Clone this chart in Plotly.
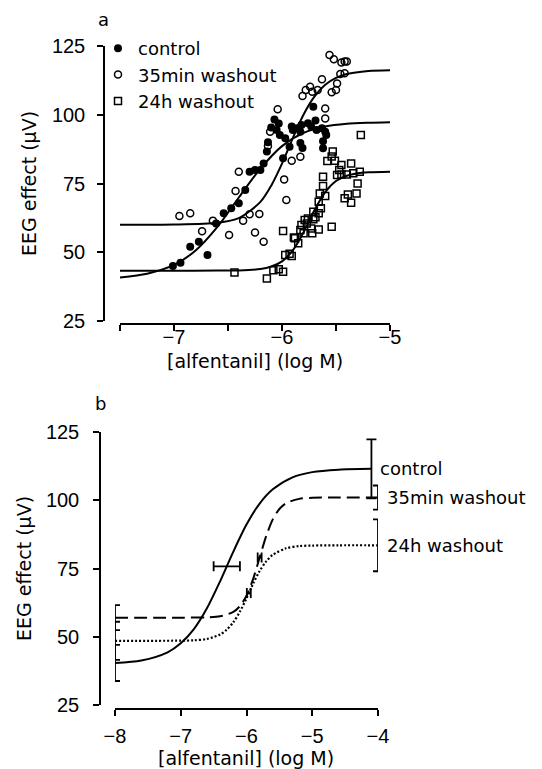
import plotly.graph_objects as go

# ---------------- Panel a: data ----------------
ctrl_x = [-7.01, -6.94, -6.85, -6.77, -6.69, -6.61, -6.54, -6.47, -6.40, -6.34, -6.30, -6.25, -6.20,
          -6.17, -6.14, -5.99, -5.62, -6.07, -6.03, -6.10, -6.05, -6.02, -5.91, -5.90, -5.86, -5.83,
          -5.82, -5.76, -5.73, -5.69, -5.68, -5.63, -5.60, -5.59, -5.71, -5.93, -5.83, -5.81, -5.62,
          -6.13, -5.97]
ctrl_y = [45.0, 46.2, 52.0, 53.8, 49.0, 60.5, 64.2, 66.0, 67.8, 72.6, 79.3, 79.9, 79.9,
          82.3, 86.6, 84.2, 87.8, 98.3, 96.8, 95.4, 94.5, 92.6, 95.7, 94.5, 95.1, 93.8,
          96.3, 96.9, 95.7, 97.9, 94.5, 95.1, 93.8, 92.6, 102.9, 88.4, 89.7, 87.9, 90.4,
          90.0, 91.5]

w35_x = [-5.56, -5.52, -5.45, -5.42, -5.40, -5.46, -5.42, -5.63, -5.49, -5.50, -5.54, -5.74, -5.78,
         -5.72, -5.67, -5.81, -6.04, -5.60, -5.60, -6.11, -6.13, -6.40, -6.43, -6.95, -6.85, -6.64,
         -6.36, -6.30, -6.21, -6.74, -6.49, -6.25, -6.17, -5.98, -5.96, -5.91, -5.83]
w35_y = [121.7, 120.2, 119.0, 119.4, 119.4, 114.8, 115.1, 112.9, 111.4, 109.0, 108.2, 110.2, 109.0,
         108.4, 109.0, 106.8, 102.0, 102.3, 98.6, 93.8, 88.6, 79.3, 72.3, 63.2, 64.2, 61.5,
         61.5, 63.8, 63.9, 57.6, 56.3, 57.2, 53.8, 76.5, 69.0, 83.3, 84.7]

w24_x = [-5.27, -5.53, -5.54, -5.58, -5.51, -5.45, -5.36, -5.47, -5.49, -5.45, -5.40, -5.34, -5.28,
         -5.62, -5.30, -5.31, -5.39, -5.42, -5.36, -5.62, -5.65, -5.60, -5.66, -5.64, -5.66, -5.71,
         -5.76, -5.79, -5.71, -5.69, -5.82, -5.77, -5.73, -5.66, -5.54, -5.83, -5.89, -5.99, -5.80,
         -5.72, -5.88, -5.85, -5.97, -5.91, -5.93, -6.08, -6.03, -5.99, -6.44, -6.14]
w24_y = [92.6, 86.6, 84.8, 83.2, 83.3, 81.7, 82.3, 79.9, 78.1, 78.3, 78.3, 78.7, 79.3,
         77.5, 75.0, 71.4, 71.0, 69.6, 68.0, 74.1, 71.4, 70.5, 68.4, 66.0, 64.2, 64.7,
         62.3, 61.7, 62.0, 62.7, 59.9, 60.5, 58.6, 58.3, 59.3, 58.1, 55.4, 57.7, 56.9,
         56.9, 55.1, 53.3, 49.0, 48.6, 49.5, 43.5, 43.8, 42.9, 42.6, 40.5]

# fitted curves, panel a
fit_ctrl_x = [-7.5, -7.25, -7.0, -6.8, -6.6, -6.4, -6.2, -6.0, -5.8, -5.6, -5.4, -5.2, -5.0]
fit_ctrl_y = [40.8, 42.2, 45.4, 50.6, 59.1, 69.9, 80.4, 88.6, 93.4, 95.7, 96.7, 97.1, 97.3]

fit_w35_x = [-7.5, -7.0, -6.6, -6.4, -6.2, -6.1, -6.0, -5.9, -5.8, -5.7, -5.6, -5.5, -5.4, -5.2, -5.0]
fit_w35_y = [60.0, 60.05, 60.7, 62.4, 68.3, 74.2, 82.2, 91.5, 100.1, 106.6, 110.9, 113.4, 114.8, 115.9, 116.2]

fit_w24_x = [-7.5, -7.0, -6.6, -6.4, -6.2, -6.1, -6.0, -5.9, -5.8, -5.7, -5.6, -5.5, -5.4, -5.3, -5.2, -5.0]
fit_w24_y = [43.3, 43.3, 43.32, 43.4, 43.9, 44.8, 46.7, 50.7, 57.3, 65.3, 71.9, 75.9, 77.8, 78.7, 79.05, 79.26]

a_xticks = [-7.5, -7.0, -6.5, -6.0, -5.5, -5.0]
a_xticktext = ["", "−7", "", "−6", "", "−5"]
yticks = [25, 50, 75, 100, 125]

# ---------------- Panel b: data ----------------
b_ctrl_x = [-8, -7.6, -7.2, -7.0, -6.8, -6.6, -6.4, -6.2, -6.0, -5.8, -5.6, -5.3, -5.0, -4.6, -4.1]
b_ctrl_y = [40.4, 41.3, 44.3, 47.6, 52.8, 60.5, 70.4, 81.2, 91.1, 98.8, 104.0, 108.4, 110.3, 111.2, 111.5]

b_w35_x = [-8, -7, -6.6, -6.4, -6.2, -6.1, -6.0, -5.9, -5.8, -5.7, -5.6, -5.5, -5.4, -5.2, -5.0, -4.6, -4.0]
b_w35_y = [57.0, 57.0, 57.1, 57.5, 59.1, 61.2, 65.0, 71.1, 79.0, 86.9, 93.0, 96.8, 98.9, 100.5, 100.9, 101.0, 101.0]

b_w24_x = [-8, -7, -6.8, -6.6, -6.4, -6.3, -6.2, -6.1, -6.0, -5.9, -5.8, -5.7, -5.6, -5.4, -5.2, -5.0, -4.6, -4.0]
b_w24_y = [48.5, 48.57, 48.7, 49.2, 50.85, 52.6, 55.3, 59.2, 64.1, 69.4, 74.1, 77.6, 80.0, 82.4, 83.2, 83.4, 83.5, 83.5]

# vertical error bars (start / plateau)
veb_x = [-8, -8, -8, -4.1, -4.0, -4.0]
veb_y = [40.4, 57.0, 48.5, 111.5, 101.0, 83.5]
veb_err = [6.6, 4.6, 7.0, 10.8, 4.4, 9.5]

# horizontal error bars (EC50)
heb_x = [-6.3, -5.8, -5.965]
heb_y = [75.8, 79.0, 66.0]
heb_err = [0.2, 0.03, 0.03]

b_xticks = [-8, -7, -6, -5, -4]
b_labels = ["control", "35min washout", "24h washout"]
b_label_x = [-4.1, -4.0, -4.0]
b_label_y = [111.5, 101.0, 83.5]

XTITLE = "[alfentanil] (log M)"
YTITLE = "EEG effect (μV)"

# ---------------- figure ----------------
TICKFONT = dict(family="Liberation Sans, Arial, sans-serif", size=20, color="black")
TXTFONT = dict(family="DejaVu Sans, sans-serif", size=18, color="black")
TITLEFONT = dict(family="DejaVu Sans, sans-serif", size=19, color="black")

fig = go.Figure()

fig.add_trace(go.Scatter(x=ctrl_x, y=ctrl_y, mode="markers", name="control",
                         marker=dict(symbol="circle", size=8, color="black"),
                         xaxis="x", yaxis="y"))
fig.add_trace(go.Scatter(x=w35_x, y=w35_y, mode="markers", name="35min washout",
                         marker=dict(symbol="circle-open", size=7, color="black", line=dict(width=1.5)),
                         xaxis="x", yaxis="y"))
fig.add_trace(go.Scatter(x=w24_x, y=w24_y, mode="markers", name="24h washout",
                         marker=dict(symbol="square-open", size=7, color="black", line=dict(width=1.5)),
                         xaxis="x", yaxis="y"))
for fx, fy in [(fit_ctrl_x, fit_ctrl_y), (fit_w35_x, fit_w35_y), (fit_w24_x, fit_w24_y)]:
    fig.add_trace(go.Scatter(x=fx, y=fy, mode="lines", showlegend=False,
                             line=dict(color="black", width=2, shape="spline", smoothing=0.8),
                             xaxis="x", yaxis="y"))

fig.add_trace(go.Scatter(x=b_ctrl_x, y=b_ctrl_y, mode="lines", showlegend=False,
                         line=dict(color="black", width=2, shape="spline", smoothing=0.8),
                         xaxis="x2", yaxis="y2"))
fig.add_trace(go.Scatter(x=b_w35_x, y=b_w35_y, mode="lines", showlegend=False,
                         line=dict(color="black", width=2, dash="13px,6px", shape="spline", smoothing=0.8),
                         xaxis="x2", yaxis="y2"))
fig.add_trace(go.Scatter(x=b_w24_x, y=b_w24_y, mode="lines", showlegend=False,
                         line=dict(color="black", width=2.2, dash="2px,2px", shape="spline", smoothing=0.8),
                         xaxis="x2", yaxis="y2"))
fig.add_trace(go.Scatter(x=veb_x, y=veb_y, mode="markers", showlegend=False, cliponaxis=False,
                         marker=dict(size=1, color="rgba(0,0,0,0)"),
                         error_y=dict(type="data", array=veb_err, visible=True, color="black",
                                      thickness=1.8, width=5),
                         xaxis="x2", yaxis="y2"))
fig.add_trace(go.Scatter(x=heb_x, y=heb_y, mode="markers", showlegend=False, cliponaxis=False,
                         marker=dict(size=1, color="rgba(0,0,0,0)"),
                         error_x=dict(type="data", array=heb_err, visible=True, color="black",
                                      thickness=1.8, width=5),
                         xaxis="x2", yaxis="y2"))

W, H = 542, 769
def px(v):
    return v / W
def py(v):
    return 1 - v / H

axis_common = dict(showline=True, linecolor="black", linewidth=1.5, ticks="outside",
                   ticklen=6, tickwidth=1.5, tickcolor="black", showgrid=False,
                   zeroline=False, tickfont=TICKFONT, anchor="free", automargin=False)

fig.update_layout(
    width=W, height=H, margin=dict(l=0, r=0, t=0, b=0, autoexpand=False),
    paper_bgcolor="white", plot_bgcolor="white",
    showlegend=True,
    legend=dict(x=px(98), y=py(30), xanchor="left", yanchor="top", font=TXTFONT,
                bgcolor="rgba(0,0,0,0)", borderwidth=0, tracegroupgap=0),
    xaxis=dict(axis_common, domain=[px(120), px(390)], range=[-7.5, -5.0], position=py(324),
               tickvals=a_xticks, ticktext=a_xticktext, ticklabelstandoff=-11),
    yaxis=dict(axis_common, domain=[py(321), py(46)], range=[25, 125], position=px(104),
               tickvals=yticks, ticklabelstandoff=8,
               title=dict(text=YTITLE, font=TITLEFONT, standoff=9)),
    xaxis2=dict(axis_common, domain=[px(115), px(378)], range=[-8, -4], position=py(709),
                tickvals=b_xticks, ticklabelstandoff=3),
    yaxis2=dict(axis_common, domain=[py(705), py(432)], range=[25, 125], position=px(100),
                tickvals=yticks, ticklabelstandoff=10,
                title=dict(text=YTITLE, font=TITLEFONT, standoff=8)),
)

# x-axis titles (placed as paper annotations for exact spacing)
fig.add_annotation(text=XTITLE, x=px(255), y=py(361), xref="paper", yref="paper",
                   xanchor="center", yanchor="middle", showarrow=False, font=TITLEFONT)
fig.add_annotation(text=XTITLE, x=px(246), y=py(758), xref="paper", yref="paper",
                   xanchor="center", yanchor="middle", showarrow=False, font=TITLEFONT)

fig.add_annotation(text="a", x=px(103), y=py(19), xref="paper", yref="paper",
                   xanchor="center", yanchor="middle", showarrow=False, font=TXTFONT)
fig.add_annotation(text="b", x=px(100), y=py(403), xref="paper", yref="paper",
                   xanchor="center", yanchor="middle", showarrow=False, font=TXTFONT)
for t, lx, ly in zip(b_labels, b_label_x, b_label_y):
    fig.add_annotation(text=t, x=lx, y=ly, xref="x2", yref="y2", xanchor="left",
                       yanchor="middle", xshift=7, showarrow=False, font=TXTFONT)

fig.write_html("out.html", config={"displayModeBar": False},
               post_script="document.body.style.margin='0px';")
